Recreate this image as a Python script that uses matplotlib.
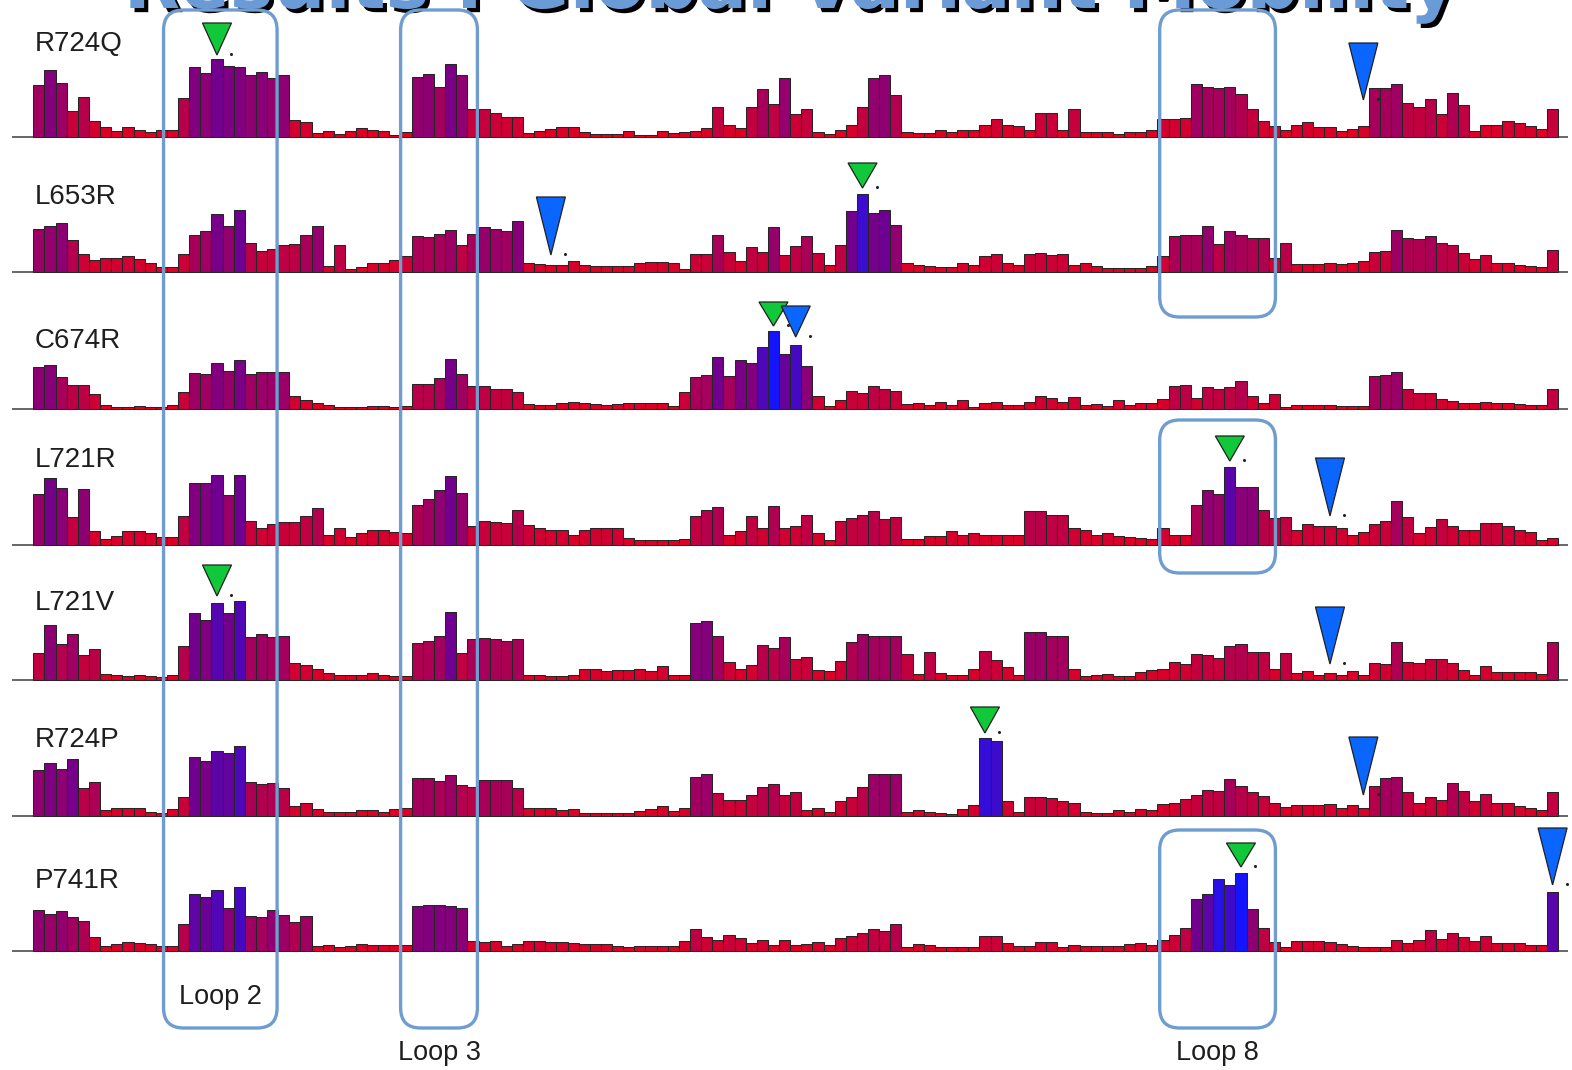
import matplotlib
matplotlib.use("Agg")
import matplotlib.pyplot as plt
import numpy as np
from matplotlib.patches import FancyBboxPatch, Polygon
from matplotlib.colors import LinearSegmentedColormap
import matplotlib.patheffects as pe

# ---------------- data ----------------
title = "Results : Global Variant Mobility"
variants = ["R724Q", "L653R", "C674R", "L721R", "L721V", "R724P", "P741R"]

r724q = [52, 67, 54, 26, 40, 16, 10, 6, 10, 7, 5, 7, 7, 39, 70, 64, 78, 71, 70, 62, 65, 59, 62, 17, 15, 4, 6, 3, 6, 9, 7, 6, 2, 5, 60, 63,
         50, 73, 62, 28, 28, 24, 20, 20, 4, 6, 8, 10, 10, 5, 3, 3, 3, 6, 2, 2, 6, 4, 5, 6, 9, 30, 12, 9, 30, 48, 33, 59, 23,
         28, 5, 3, 7, 12, 30, 59, 62, 42, 5, 4, 4, 7, 5, 7, 7, 12, 18, 12, 11, 7, 24, 24, 7, 28, 5, 5, 5, 3, 5, 5, 7, 18, 18, 19,
         53, 50, 49, 50, 43, 28, 16, 11, 7, 12, 15, 10, 10, 6, 8, 11, 49, 49, 53, 34, 30, 38, 23, 44, 32, 6, 12, 12, 16, 14, 11, 8, 28]
l653r = [43, 46, 49, 32, 18, 12, 14, 14, 16, 13, 9, 5, 5, 18, 37, 41, 58, 46, 62, 29, 21, 23, 27, 28, 37, 46, 6, 27, 3, 5, 9, 9, 12, 16, 36,
         35, 38, 42, 27, 38, 45, 43, 41, 51, 9, 8, 7, 7, 11, 7, 6,
         6, 6, 6, 9, 10, 10, 9, 3, 18, 18, 37, 20, 11, 25, 20, 45, 17, 26, 36, 19, 7, 27, 61, 78, 59, 62, 47, 9, 7, 6, 5, 5, 9, 7, 16,
         18, 9, 7, 18, 19, 17, 18, 7, 9, 6, 4, 4, 4, 4, 6, 16, 36, 37, 37,
         46, 28, 41, 37, 34, 34, 14, 29, 8, 8, 8, 9, 8, 9, 11, 20, 21, 42, 34, 33, 36, 29, 27, 19, 13, 17, 9, 9, 7, 6, 5, 22]
c674r = [42, 44, 32, 24, 24, 15, 4, 2, 2, 3, 2, 2, 4, 17, 36, 35, 46, 38, 49, 35, 37, 37, 37, 13, 9, 6, 4, 2, 2, 2, 3, 3, 2, 3, 25,
         25, 31, 50, 35, 23, 23, 20, 20, 17, 5, 4, 4, 6, 7, 6, 5, 4, 5, 6, 6, 6, 6, 3, 17, 32, 34, 52, 33, 49, 46, 62, 78, 55, 64,
         43, 13, 3, 9, 18, 16, 23, 20, 18, 5, 6, 4, 7, 4, 9, 2, 6, 7, 4, 4, 7, 13, 11, 7, 12, 4, 5, 3, 9, 4, 6, 6, 10, 23, 24,
         11, 22, 20, 22, 28, 13, 6, 15, 2, 4, 4, 4, 4, 3, 3, 3, 33, 34, 37, 20, 16, 16, 10, 8, 6, 6, 7, 6, 6, 5, 4, 4, 20]
l721r = [51, 67, 57, 28, 56, 14, 6, 9, 14, 14, 12, 8, 8, 29, 62, 62, 70, 50, 70, 24, 17, 21, 23, 23, 29, 37, 10, 17, 8, 12, 15, 15, 13, 12, 40,
         46, 55, 69, 52, 19, 24, 23, 22, 35, 20, 17, 15, 15, 10, 15, 17, 17, 17, 7, 5, 5, 5, 5, 6, 29, 35, 38, 10, 14, 29, 17, 39, 17, 19,
         30, 12, 5, 24, 27, 30, 34, 26, 28, 6, 6, 9, 9, 14, 10, 12, 10, 10, 10, 10, 34, 34, 30, 30, 17, 15, 10, 12, 9, 8, 7, 6, 17, 10, 10,
         40, 55, 51, 78, 58, 58, 35, 27, 28, 15, 21, 19, 19, 17, 10, 13, 21, 24, 44, 28, 12, 18, 26, 19, 15, 15, 22, 22, 19, 15, 13, 5, 7]
l721v = [27, 55, 36, 46, 25, 31, 6, 5, 4, 5, 4, 3, 5, 34, 67, 60, 77, 67, 79, 43, 46, 43, 44, 17, 15, 11, 7, 5, 5, 5, 7, 5, 4, 4, 37,
         39, 44, 68, 27, 41, 42, 41, 39, 41, 5, 5, 4, 4, 5, 11, 11, 9, 10, 10, 11, 9, 14, 5, 5, 57, 59, 44, 18, 11, 15, 35, 32, 43, 21,
         23, 10, 9, 19, 38, 46, 44, 44, 44, 26, 6, 28, 7, 5, 5, 11, 29, 20, 13, 5, 48, 48, 44, 44, 11, 4, 5, 6, 4, 4, 8, 10, 11, 18, 16,
         26, 25, 22, 34, 36, 28, 28, 11, 27, 7, 9, 5, 7, 5, 9, 5, 17, 16, 38, 18, 17, 21, 21, 17, 10, 5, 14, 8, 8, 8, 8, 6, 38]
r724p = [46, 53, 47, 57, 28, 34, 6, 8, 8, 8, 4, 3, 7, 19, 59, 55, 65, 63, 70, 34, 32, 33, 28, 10, 13, 7, 4, 4, 4, 6, 6, 4, 7, 8, 38,
         38, 35, 41, 31, 29, 36, 36, 36, 28, 8, 8, 8, 6, 7, 3, 3, 3, 3, 3, 5, 7, 10, 5, 8, 39, 42, 23, 16, 16, 21, 29, 32, 21, 24,
         6, 8, 4, 15, 19, 29, 42, 42, 42, 4, 6, 4, 3, 2, 7, 11, 78, 75, 15, 4, 19, 19, 18, 15, 13, 4, 3, 3, 6, 4, 7, 6, 12, 13, 17,
         21, 26, 25, 37, 30, 24, 20, 13, 9, 11, 11, 11, 12, 8, 11, 8, 30, 38, 39, 24, 13, 19, 16, 33, 25, 15, 22, 13, 13, 10, 8, 6, 24]
p741r = [41, 37, 40, 34, 30, 14, 5, 7, 9, 8, 7, 5, 5, 27, 57, 54, 61, 43, 64, 35, 34, 41, 36, 29, 35, 5, 6, 4, 5, 7, 6, 6, 6, 6, 45,
         46, 46, 45, 43, 10, 9, 10, 5, 7, 10, 10, 9, 9, 8, 7, 7, 7, 5, 4, 5, 5, 5, 5, 10, 22, 14, 11, 16, 13, 8, 11, 6,
         11, 6, 7, 9, 6, 13, 15, 18, 22, 20, 27, 4, 7, 6, 4, 4, 4, 4, 15, 15, 8, 5, 5, 9, 9, 4, 6, 5, 5, 5, 5, 7, 8, 6, 11,
         16, 23, 52, 57, 72, 66, 78, 42, 23, 9, 4, 10, 10, 10, 9, 7, 5, 4, 4, 4, 11, 8, 11, 21, 12, 18, 14, 10, 15, 8, 8, 8, 6, 6, 59]

mobility = [r724q, l653r, c674r, l721r, l721v, r724p, p741r]
color_max = [117, 91, 78, 104, 101, 88, 78]      # value that maps to full blue, per variant

loop_names = ["Loop 2", "Loop 3", "Loop 8"]
loop_start = [11.2, 32.5, 100.7]                  # in residue (bar) index units
loop_end = [21.4, 39.4, 111.1]

# markers: variant row, residue index, kind ("g" = green, "b" = blue)
marker_row = [0, 0, 1, 1, 2, 2, 3, 3, 4, 4, 5, 5, 6, 6]
marker_bar = [16, 119, 74, 46, 66, 68, 107, 116, 16, 116, 85, 119, 108, 136]
marker_kind = ["g", "b", "g", "b", "g", "b", "g", "b", "g", "b", "g", "b", "g", "b"]

# ---------------- layout (pixels of the 1572x1070 canvas) ----------------
W, H = 1572, 1070
X0_PX, BAR_PX = 38.9, 11.13
baseline_px = [137, 272, 409, 545, 680, 816, 951]
label_y_px = [44, 197, 341, 460, 603, 740, 881]
marker_tip = [82, 37, 84, 17, 83, 72, 84, 29, 84, 16, 83, 21, 84, 66]
marker_h = [32, 57, 25, 58, 24, 31, 25, 58, 31, 57, 26, 58, 24, 57]
loop_segments = [[(10, 1028)], [(10, 1028)], [(10, 317), (420, 573), (830, 1028)]]
loop_label_y = [997, 1053, 1053]

fig = plt.figure(figsize=(W / 100, H / 100), dpi=100)
ax = fig.add_axes([0, 0, 1, 1])
ax.set_xlim(-X0_PX / BAR_PX, (W - X0_PX) / BAR_PX)
ax.set_ylim(-H, 0)
ax.axis("off")

cmap = LinearSegmentedColormap.from_list(
    "mob", ["#e8001c", "#b8004a", "#72008e", "#1414ff"])

label_font = ["Liberation Sans", "DejaVu Sans"]

for r, vals in enumerate(mobility):
    vals = np.asarray(vals, dtype=float)
    x = np.arange(len(vals))
    base = -baseline_px[r]
    ax.plot([(12 - X0_PX) / BAR_PX, (1568 - X0_PX) / BAR_PX], [base, base],
            color="#5a5a5a", lw=1.3, zorder=1, solid_capstyle="butt")
    cols = cmap(np.clip(vals / color_max[r], 0, 1))
    ax.bar(x, vals, width=1.0, bottom=base, color=cols, edgecolor="#262626",
           linewidth=0.75, zorder=2)
    ax.text((35 - X0_PX) / BAR_PX, -label_y_px[r], variants[r], ha="left", va="center",
            fontsize=20, family=label_font, color="#1e1e1e", zorder=5)

# loop boxes
for k, name in enumerate(loop_names):
    for (top, bot) in loop_segments[k]:
        box = FancyBboxPatch((loop_start[k], -bot), loop_end[k] - loop_start[k], bot - top,
                             boxstyle="round,pad=0,rounding_size=1.8",
                             mutation_aspect=BAR_PX, fill=False,
                             edgecolor="#6f9dd0", linewidth=2.4, zorder=4)
        ax.add_patch(box)
    ax.text((loop_start[k] + loop_end[k]) / 2, -loop_label_y[k], name, ha="center",
            va="center", fontsize=19.5, family=label_font, color="#1e1e1e", zorder=5)

# triangles
tri_w = 29 / BAR_PX
for row, bar, kind, tip, th in zip(marker_row, marker_bar, marker_kind, marker_tip, marker_h):
    base = -baseline_px[row]
    ytip = base + tip
    ytop = ytip + th
    face = "#10c83a" if kind == "g" else "#0a66ff"
    tri = Polygon([(bar - tri_w / 2, ytop), (bar + tri_w / 2, ytop), (bar, ytip)],
                  closed=True, facecolor=face, edgecolor="#202020", linewidth=0.9, zorder=6)
    ax.add_patch(tri)
    ax.plot([bar + 1.3], [ytip + 1], marker="o", ms=1.2, color="#222222", zorder=6)

# title (mostly cut off at the top, as in the original slide)
tx = ((122 + 1457) / 2 - X0_PX) / BAR_PX
t = ax.text(tx, -8, title, ha="center", va="baseline", fontsize=60, fontweight="bold",
            family="DejaVu Sans", color="#6a9bd6", zorder=3,
            path_effects=[pe.SimplePatchShadow(offset=(3, -3), shadow_rgbFace="#000000", alpha=1.0),
                          pe.Normal()])
fig.canvas.draw()
bb = t.get_window_extent()
t.set_fontsize(60 * 1335 / bb.width)

fig.savefig("out.png", dpi=100)
